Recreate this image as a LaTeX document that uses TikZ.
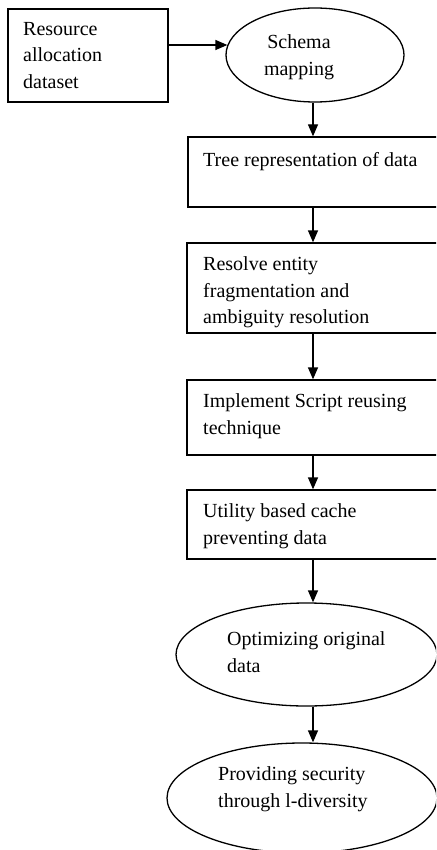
\documentclass[tikz,border=0pt]{standalone}
\usepackage{fontspec}
\setmainfont{Liberation Serif}
\usetikzlibrary{arrows.meta,shapes.geometric}
\begin{document}
\begin{tikzpicture}[x=1pt,y=-1pt,
  box/.style={draw, line width=1.3pt, rectangle, inner sep=0pt},
  oval/.style={draw, line width=1.3pt, ellipse, inner sep=0pt},
  txt/.style={inner sep=0pt, anchor=north west, align=left, font=\fontsize{20}{26.5}\selectfont},
  ctxt/.style={inner sep=0pt, anchor=north, align=center, font=\fontsize{20}{26.5}\selectfont},
  arr/.style={line width=1.3pt, -{Triangle[length=12pt,width=10pt]}}]
\useasboundingbox (0,0) rectangle (436,850);
\clip (0,0) rectangle (436,850);
% shapes
\node[box, minimum width=160pt, minimum height=93pt] (src) at (88,55.5) {};
\node[oval, minimum width=178pt, minimum height=94pt] (schema) at (315,55) {};
\node[box, minimum width=262pt, minimum height=70pt] (tree) at (319,172) {};
\node[box, minimum width=263pt, minimum height=90pt] (resolve) at (318.5,288) {};
\node[box, minimum width=263pt, minimum height=75pt] (impl) at (318.5,417.5) {};
\node[box, minimum width=263pt, minimum height=69pt] (util) at (318.5,524.5) {};
\node[oval, minimum width=261pt, minimum height=103pt] (opt) at (306.5,654.5) {};
\node[oval, minimum width=270pt, minimum height=110pt] (prov) at (302,798) {};
% texts
\node[txt] (srct) at (23,22) {Resource\\allocation\\dataset};
\node[ctxt] (schemat) at (299,34.5) {Schema\\mapping};
\node[txt] (treet) at (203,152) {Tree representation of data};
\node[txt] (resolvet) at (203,256.5) {Resolve entity\\fragmentation and\\ambiguity resolution};
\node[txt] (implt) at (203,393.5) {Implement Script reusing\\technique};
\node[txt] (utilt) at (203,503.5) {Utility based cache\\preventing data};
\node[txt] (optt) at (227,631.5) {Optimizing original\\data};
\node[txt] (provt) at (218,766.5) {Providing security\\through l-diversity};
% connectors
\coordinate (col) at (313,0);
\draw[arr, shorten >=-2pt] ([yshift=10.5pt]src.east) -- ([yshift=10.5pt]src.east -| schema.west);
\draw[arr] (schema.south -| col) -- (tree.north -| col);
\draw[arr] (tree.south -| col) -- (resolve.north -| col);
\draw[arr] (resolve.south -| col) -- (impl.north -| col);
\draw[arr] (impl.south -| col) -- (util.north -| col);
\draw[arr] (util.south -| col) -- (opt.north -| col);
\draw[arr] (opt.south -| col) -- (prov.north -| col);
\end{tikzpicture}
\end{document}
